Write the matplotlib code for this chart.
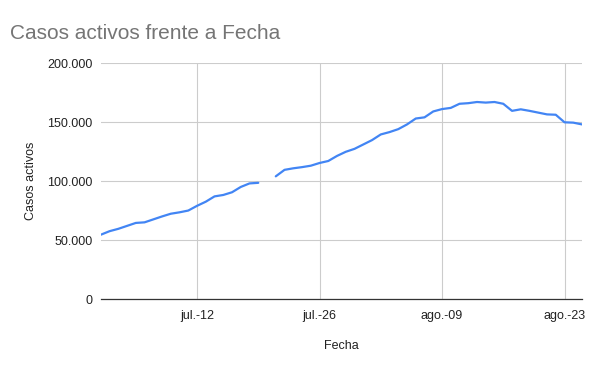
import matplotlib
matplotlib.use("Agg")
import matplotlib.pyplot as plt
import numpy as np
import pandas as pd

plt.rcParams['font.family'] = ['Liberation Sans', 'DejaVu Sans']

# daily active cases, 1 jul - 25 ago (jul 20 missing)
fechas = pd.date_range("2020-07-01", "2020-08-25", freq="D")
casos = [
    54500, 57500, 59500, 62000, 64500, 65000, 67500, 70000, 72300, 73500,
    75000, 79000, 82500, 87000, 88200, 90500, 95000, 98000, 98500, np.nan,
    104000, 109500, 110800, 111800, 113000, 115300, 117000, 121300, 124800, 127300,
    131000, 134700, 139500, 141500, 144000, 148000, 153000, 154000, 159000, 161000,
    162000, 165500, 166000, 167000, 166500, 167000, 165500, 159500, 160800, 159500,
    158000, 156500, 156200, 149800, 149500, 148000,
]
tick_fechas = ["2020-07-12", "2020-07-26", "2020-08-09", "2020-08-23"]
tick_labels = ["jul.-12", "jul.-26", "ago.-09", "ago.-23"]
y_ticks = [0, 50000, 100000, 150000, 200000]
y_labels = ["0", "50.000", "100.000", "150.000", "200.000"]

fig = plt.figure(figsize=(6, 3.71), dpi=100)
ax = fig.add_axes([0.168, 0.194, 0.802, 0.636])

ax.plot(fechas, casos, color="#4285F4", linewidth=1.6, solid_capstyle="round")

ax.set_ylim(0, 200000)
ax.set_xlim(fechas[0], fechas[-1])
ax.set_yticks(y_ticks)
ax.set_yticklabels(y_labels)
ax.set_xticks(pd.to_datetime(tick_fechas))
ax.set_xticklabels(tick_labels)

ax.grid(True, color="#cccccc", linewidth=0.8)
ax.set_axisbelow(True)
for s in ["top", "right", "left"]:
    ax.spines[s].set_visible(False)
ax.spines["bottom"].set_color("#333333")
ax.spines["bottom"].set_linewidth(0.9)
ax.tick_params(axis="both", length=0, labelsize=9, colors="#222222")
ax.tick_params(axis="x", pad=8)
ax.tick_params(axis="y", pad=6)

ax.set_xlabel("Fecha", fontsize=9, color="#222222", labelpad=13)
ax.set_ylabel("Casos activos", fontsize=9, color="#222222", labelpad=7)

fig.text(0.017, 0.91, "Casos activos frente a Fecha", fontsize=15, color="#757575",
         va="center", ha="left")

fig.savefig("out.png", dpi=100, facecolor="white")
